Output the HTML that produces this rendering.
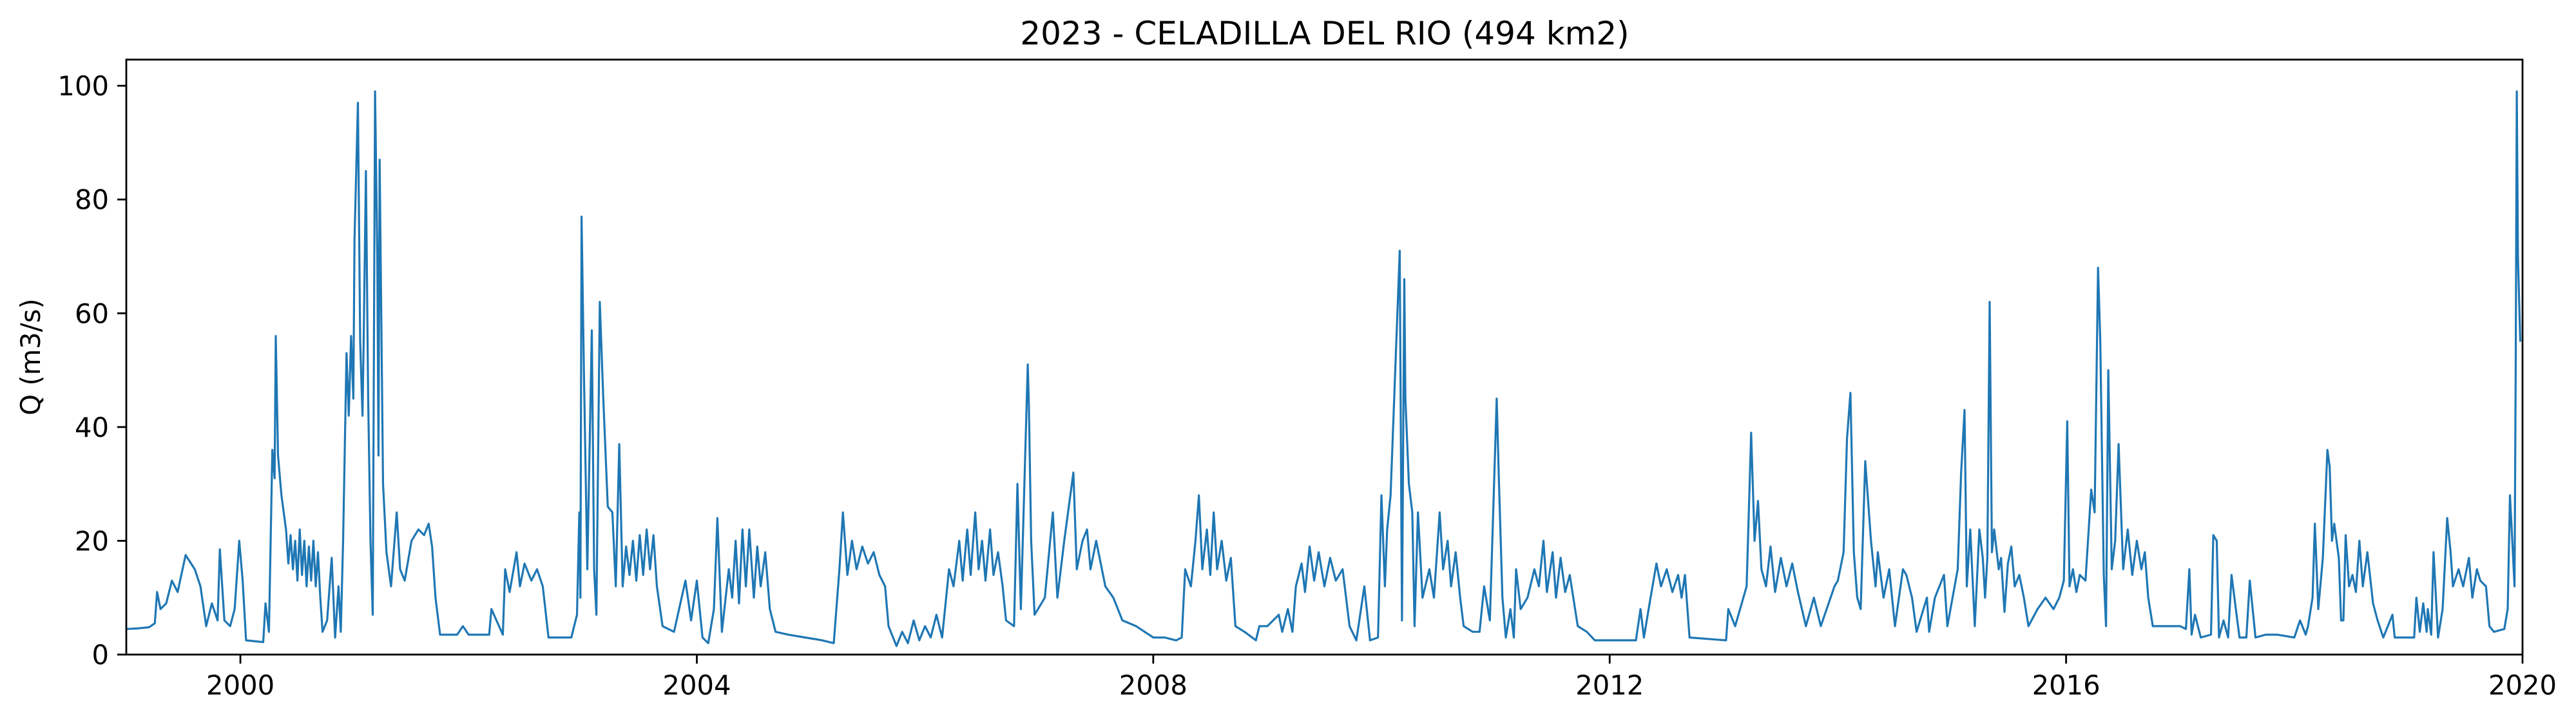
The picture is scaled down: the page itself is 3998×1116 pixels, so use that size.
<!DOCTYPE html>
<html><head><meta charset="utf-8"><style>html,body{margin:0;padding:0;background:#fff}svg{display:block}text{font-family:"DejaVu Sans","Liberation Sans",sans-serif}</style></head>
<body>
<svg id="chart" width="3998" height="1116" viewBox="0 0 3998 1116" xmlns="http://www.w3.org/2000/svg">
<text x="2056" y="69" font-size="50" text-anchor="middle">2023 - CELADILLA DEL RIO (494 km2)</text>
<text transform="translate(62,554) rotate(-90)" font-size="41.7" text-anchor="middle">Q (m3/s)</text>
<g id="plot"></g>
<g id="axes"></g>
</svg>
<script>
const xTicks=[2000,2004,2008,2012,2016,2020];
const yTicks=[0,20,40,60,80,100];
const series=[
[1999.0,4.5],[1999.1,4.6],[1999.2,4.8],[1999.25,5.5],[1999.27,11],[1999.3,8],[1999.35,9],[1999.4,13],[1999.45,11],[1999.52,17.5],[1999.6,15],[1999.65,12],[1999.7,5],[1999.75,9],[1999.8,6],[1999.82,18.5],[1999.86,6],[1999.91,5],[1999.95,8],[1999.99,20],[2000.02,13],[2000.05,2.5],[2000.2,2.2],[2000.22,9],[2000.25,4],[2000.28,36],[2000.3,31],[2000.31,56],[2000.33,35],[2000.36,28],[2000.4,22],[2000.42,16],[2000.44,21],[2000.46,15],[2000.48,20],[2000.5,13],[2000.52,22],[2000.54,14],[2000.56,20],[2000.58,12],[2000.6,19],[2000.62,13],[2000.64,20],[2000.66,12],[2000.68,18],[2000.7,10],[2000.72,4],[2000.76,6],[2000.8,17],[2000.83,3],[2000.86,12],[2000.88,4],[2000.9,20],[2000.93,53],[2000.95,42],[2000.97,56],[2000.99,45],[2001.0,73],[2001.03,97],[2001.05,55],[2001.07,42],[2001.08,55],[2001.1,85],[2001.12,45],[2001.14,20],[2001.16,7],[2001.18,99],[2001.2,70],[2001.21,35],[2001.22,87],[2001.25,30],[2001.28,18],[2001.32,12],[2001.37,25],[2001.4,15],[2001.44,13],[2001.5,20],[2001.56,22],[2001.61,21],[2001.65,23],[2001.68,19],[2001.71,10],[2001.75,3.5],[2001.9,3.5],[2001.95,5],[2002.0,3.5],[2002.18,3.5],[2002.2,8],[2002.3,3.5],[2002.32,15],[2002.36,11],[2002.42,18],[2002.45,12],[2002.49,16],[2002.55,13],[2002.6,15],[2002.65,12],[2002.7,3],[2002.9,3],[2002.95,7],[2002.97,25],[2002.98,10],[2002.99,77],[2003.01,50],[2003.04,15],[2003.08,57],[2003.1,15],[2003.12,7],[2003.15,62],[2003.18,45],[2003.22,26],[2003.26,25],[2003.29,12],[2003.32,37],[2003.35,12],[2003.38,19],[2003.41,14],[2003.44,20],[2003.47,13],[2003.5,21],[2003.53,14],[2003.56,22],[2003.59,15],[2003.62,21],[2003.65,12],[2003.7,5],[2003.8,4],[2003.9,13],[2003.95,6],[2004.0,13],[2004.05,3],[2004.1,2],[2004.15,8],[2004.18,24],[2004.22,4],[2004.28,15],[2004.31,10],[2004.34,20],[2004.37,9],[2004.4,22],[2004.43,12],[2004.46,22],[2004.5,10],[2004.53,19],[2004.56,12],[2004.6,18],[2004.64,8],[2004.69,4],[2004.8,3.5],[2004.95,3],[2005.1,2.5],[2005.2,2],[2005.25,15],[2005.28,25],[2005.32,14],[2005.36,20],[2005.4,15],[2005.45,19],[2005.5,16],[2005.55,18],[2005.6,14],[2005.65,12],[2005.68,5],[2005.75,1.5],[2005.8,4],[2005.85,2],[2005.9,6],[2005.95,2.5],[2006.0,5],[2006.05,3],[2006.1,7],[2006.15,3],[2006.21,15],[2006.25,12],[2006.3,20],[2006.33,13],[2006.37,22],[2006.4,14],[2006.44,25],[2006.47,15],[2006.5,20],[2006.53,13],[2006.57,22],[2006.6,14],[2006.64,18],[2006.68,12],[2006.71,6],[2006.78,5],[2006.81,30],[2006.84,8],[2006.9,51],[2006.91,44],[2006.93,20],[2006.96,7],[2007.05,10],[2007.12,25],[2007.16,10],[2007.22,20],[2007.3,32],[2007.33,15],[2007.38,20],[2007.42,22],[2007.45,15],[2007.5,20],[2007.58,12],[2007.65,10],[2007.73,6],[2007.85,5],[2008.0,3],[2008.1,3],[2008.2,2.5],[2008.25,3],[2008.28,15],[2008.33,12],[2008.37,20],[2008.4,28],[2008.43,15],[2008.47,22],[2008.5,14],[2008.53,25],[2008.56,15],[2008.6,20],[2008.64,13],[2008.68,17],[2008.72,5],[2008.8,4],[2008.9,2.5],[2008.93,5],[2009.0,5],[2009.1,7],[2009.13,4],[2009.18,8],[2009.22,4],[2009.25,12],[2009.3,16],[2009.33,11],[2009.37,19],[2009.41,13],[2009.45,18],[2009.5,12],[2009.55,17],[2009.6,13],[2009.66,15],[2009.72,5],[2009.78,2.5],[2009.85,12],[2009.9,2.5],[2009.97,3],[2010.0,28],[2010.03,12],[2010.05,22],[2010.08,28],[2010.16,71],[2010.18,6],[2010.2,66],[2010.21,45],[2010.24,30],[2010.27,25],[2010.29,5],[2010.32,25],[2010.36,10],[2010.42,15],[2010.46,10],[2010.51,25],[2010.54,15],[2010.58,20],[2010.61,12],[2010.65,18],[2010.69,10],[2010.72,5],[2010.8,4],[2010.86,4],[2010.9,12],[2010.95,6],[2011.01,45],[2011.03,30],[2011.06,10],[2011.09,3],[2011.13,8],[2011.16,3],[2011.18,15],[2011.22,8],[2011.28,10],[2011.34,15],[2011.38,12],[2011.42,20],[2011.45,11],[2011.5,18],[2011.53,10],[2011.57,17],[2011.61,11],[2011.65,14],[2011.72,5],[2011.8,4],[2011.87,2.5],[2012.0,2.5],[2012.23,2.5],[2012.27,8],[2012.3,3],[2012.35,9],[2012.41,16],[2012.45,12],[2012.5,15],[2012.55,11],[2012.6,14],[2012.63,10],[2012.66,14],[2012.7,3],[2013.02,2.5],[2013.04,8],[2013.1,5],[2013.2,12],[2013.24,39],[2013.27,20],[2013.3,27],[2013.33,15],[2013.37,12],[2013.41,19],[2013.45,11],[2013.5,17],[2013.55,12],[2013.6,16],[2013.65,11],[2013.72,5],[2013.79,10],[2013.85,5],[2013.97,12],[2014.0,13],[2014.05,18],[2014.08,38],[2014.11,46],[2014.14,18],[2014.17,10],[2014.2,8],[2014.24,34],[2014.29,20],[2014.33,12],[2014.35,18],[2014.4,10],[2014.45,15],[2014.5,5],[2014.57,15],[2014.6,14],[2014.65,10],[2014.69,4],[2014.78,10],[2014.8,4],[2014.85,10],[2014.93,14],[2014.96,5],[2015.05,15],[2015.08,32],[2015.11,43],[2015.13,12],[2015.16,22],[2015.2,5],[2015.24,22],[2015.27,17],[2015.29,10],[2015.31,17],[2015.33,62],[2015.35,18],[2015.37,22],[2015.41,15],[2015.43,17],[2015.46,7.5],[2015.49,16],[2015.52,19],[2015.55,12],[2015.59,14],[2015.63,10],[2015.67,5],[2015.75,8],[2015.82,10],[2015.89,8],[2015.94,10],[2015.98,13],[2016.01,41],[2016.03,12],[2016.06,15],[2016.09,11],[2016.12,14],[2016.17,13],[2016.22,29],[2016.25,25],[2016.28,68],[2016.3,55],[2016.33,14],[2016.35,5],[2016.37,50],[2016.4,15],[2016.43,20],[2016.46,37],[2016.5,15],[2016.54,22],[2016.58,14],[2016.62,20],[2016.66,15],[2016.69,18],[2016.72,10],[2016.76,5],[2017.0,5],[2017.05,4.5],[2017.08,15],[2017.1,3.5],[2017.13,7],[2017.18,3],[2017.27,3.5],[2017.29,21],[2017.32,20],[2017.34,3],[2017.38,6],[2017.42,3],[2017.45,14],[2017.5,6],[2017.52,3],[2017.58,3],[2017.61,13],[2017.66,3],[2017.75,3.5],[2017.85,3.5],[2018.0,3],[2018.05,6],[2018.1,3.5],[2018.12,5],[2018.16,10],[2018.18,23],[2018.21,8],[2018.25,17],[2018.29,36],[2018.31,33],[2018.33,20],[2018.35,23],[2018.39,17],[2018.41,6],[2018.43,6],[2018.45,21],[2018.48,12],[2018.51,14],[2018.54,11],[2018.57,20],[2018.6,12],[2018.64,18],[2018.69,9],[2018.73,6],[2018.78,3],[2018.86,7],[2018.88,3],[2019.05,3],[2019.07,10],[2019.1,4],[2019.13,9],[2019.16,4],[2019.17,8],[2019.2,3.5],[2019.22,18],[2019.26,3],[2019.3,8],[2019.34,24],[2019.37,18],[2019.39,12],[2019.44,15],[2019.48,12],[2019.53,17],[2019.56,10],[2019.6,15],[2019.63,13],[2019.68,12],[2019.71,5],[2019.75,4],[2019.84,4.5],[2019.87,8],[2019.89,28],[2019.91,20],[2019.93,12],[2019.94,50],[2019.95,99],[2019.96,70],[2019.98,55]];
const X0=196,X1=3915,Y0=1016,Y1=92.5;
const xMin=1999,xMax=2020,yMin=0,yMax=104.6;
function sx(v){return X0+(v-xMin)/(xMax-xMin)*(X1-X0);}
function sy(v){return Y0-(v-yMin)/(yMax-yMin)*(Y0-Y1);}
const NS='http://www.w3.org/2000/svg';
const plot=document.getElementById('plot'),axes=document.getElementById('axes');
let d='';
series.forEach((p,i)=>{d+=(i?'L':'M')+sx(p[0]).toFixed(1)+' '+sy(p[1]).toFixed(1);});
const line=document.createElementNS(NS,'path');
line.setAttribute('d',d);line.setAttribute('fill','none');line.setAttribute('stroke','#1f77b4');line.setAttribute('stroke-width','3.2');line.setAttribute('stroke-linejoin','round');


plot.appendChild(line);
const frame=document.createElementNS(NS,'rect');
frame.setAttribute('x',X0);frame.setAttribute('y',Y1);frame.setAttribute('width',X1-X0);frame.setAttribute('height',Y0-Y1);frame.setAttribute('fill','none');frame.setAttribute('stroke','#000');frame.setAttribute('stroke-width','2.8');


axes.appendChild(frame);
xTicks.forEach(t=>{const x=sx(t);
const tk=document.createElementNS(NS,'line');tk.setAttribute('x1',x);tk.setAttribute('x2',x);tk.setAttribute('y1',Y0);tk.setAttribute('y2',Y0+14);tk.setAttribute('stroke','#000');tk.setAttribute('stroke-width','2.8');


axes.appendChild(tk);
const tx=document.createElementNS(NS,'text');tx.setAttribute('x',x);tx.setAttribute('y',1078);tx.setAttribute('font-size','41.7');tx.setAttribute('text-anchor','middle');tx.textContent=t;


axes.appendChild(tx);});
yTicks.forEach(t=>{const y=sy(t);
const tk=document.createElementNS(NS,'line');tk.setAttribute('x1',X0-14);tk.setAttribute('x2',X0);tk.setAttribute('y1',y);tk.setAttribute('y2',y);tk.setAttribute('stroke','#000');tk.setAttribute('stroke-width','2.8');


axes.appendChild(tk);
const tx=document.createElementNS(NS,'text');tx.setAttribute('x',X0-27);tx.setAttribute('y',y+15);tx.setAttribute('font-size','41.7');tx.setAttribute('text-anchor','end');tx.textContent=t;


axes.appendChild(tx);});
</script>
</body></html>
